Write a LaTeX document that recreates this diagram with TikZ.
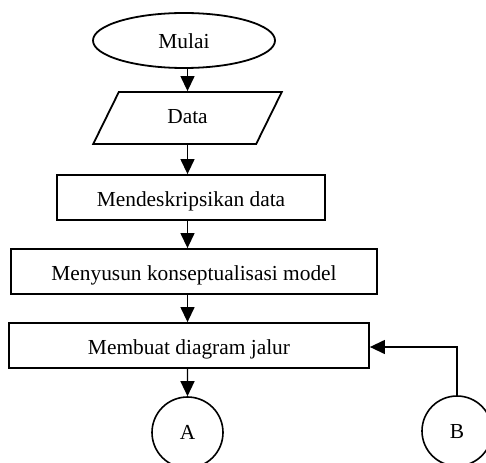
\documentclass[tikz,border=0pt]{standalone}
\usepackage{fontspec}
\setmainfont{Liberation Serif}
\usetikzlibrary{shapes.geometric,arrows.meta}
\begin{document}
\begin{tikzpicture}[x=1pt,y=-1pt,
  font=\fontsize{21.4}{25}\selectfont,
  shape border/.style={draw, line width=1.8pt, inner sep=0pt, text depth=0pt},
  procbox/.style={shape border, rectangle, text height=17pt},
  terminal/.style={shape border, ellipse, text height=15.6pt},
  iobox/.style={shape border, trapezium, trapezium left angle=54.6,
    trapezium right angle=125.4, trapezium stretches=true, text height=10.6pt},
  connector/.style={shape border, circle, line width=1.6pt, text height=14pt},
  flow/.style={line width=1.3pt, -{Triangle[length=15pt,width=14pt]}}]
\useasboundingbox (0,0) rectangle (486,462);
\clip (0,0) rectangle (486,462);
% start and input
\node[terminal, minimum width=182pt, minimum height=55pt] (mulai) at (184,40.5) {Mulai};
\node[iobox, minimum width=189pt, minimum height=52pt] (data) at (187.5,118) {Data};
% process steps
\node[procbox, minimum width=268pt, minimum height=45pt] (desk) at (191,197.5) {Mendeskripsikan data};
\node[procbox, minimum width=366pt, minimum height=45pt] (konsep) at (194,271.5) {Menyusun konseptualisasi model};
\node[procbox, minimum width=360pt, minimum height=45pt] (jalur) at (189,345.5) {Membuat diagram jalur};
% off-page connectors
\node[connector, minimum size=71pt] (A) at (187.5,432.5) {A};
\node[connector, minimum size=70pt] (B) at (457,431) {B};
% flow lines
\draw[flow] (data.north |- mulai.south) -- (data.north);
\draw[flow] (data.south) -- (data.south |- desk.north);
\draw[flow] (data.south |- desk.south) -- (data.south |- konsep.north);
\draw[flow] (data.south |- konsep.south) -- (data.south |- jalur.north);
\draw[flow] (data.south |- jalur.south) -- (A.north);
\draw[flow] (B.north) |- ([yshift=-1.5pt]jalur.east);
\end{tikzpicture}
\end{document}
